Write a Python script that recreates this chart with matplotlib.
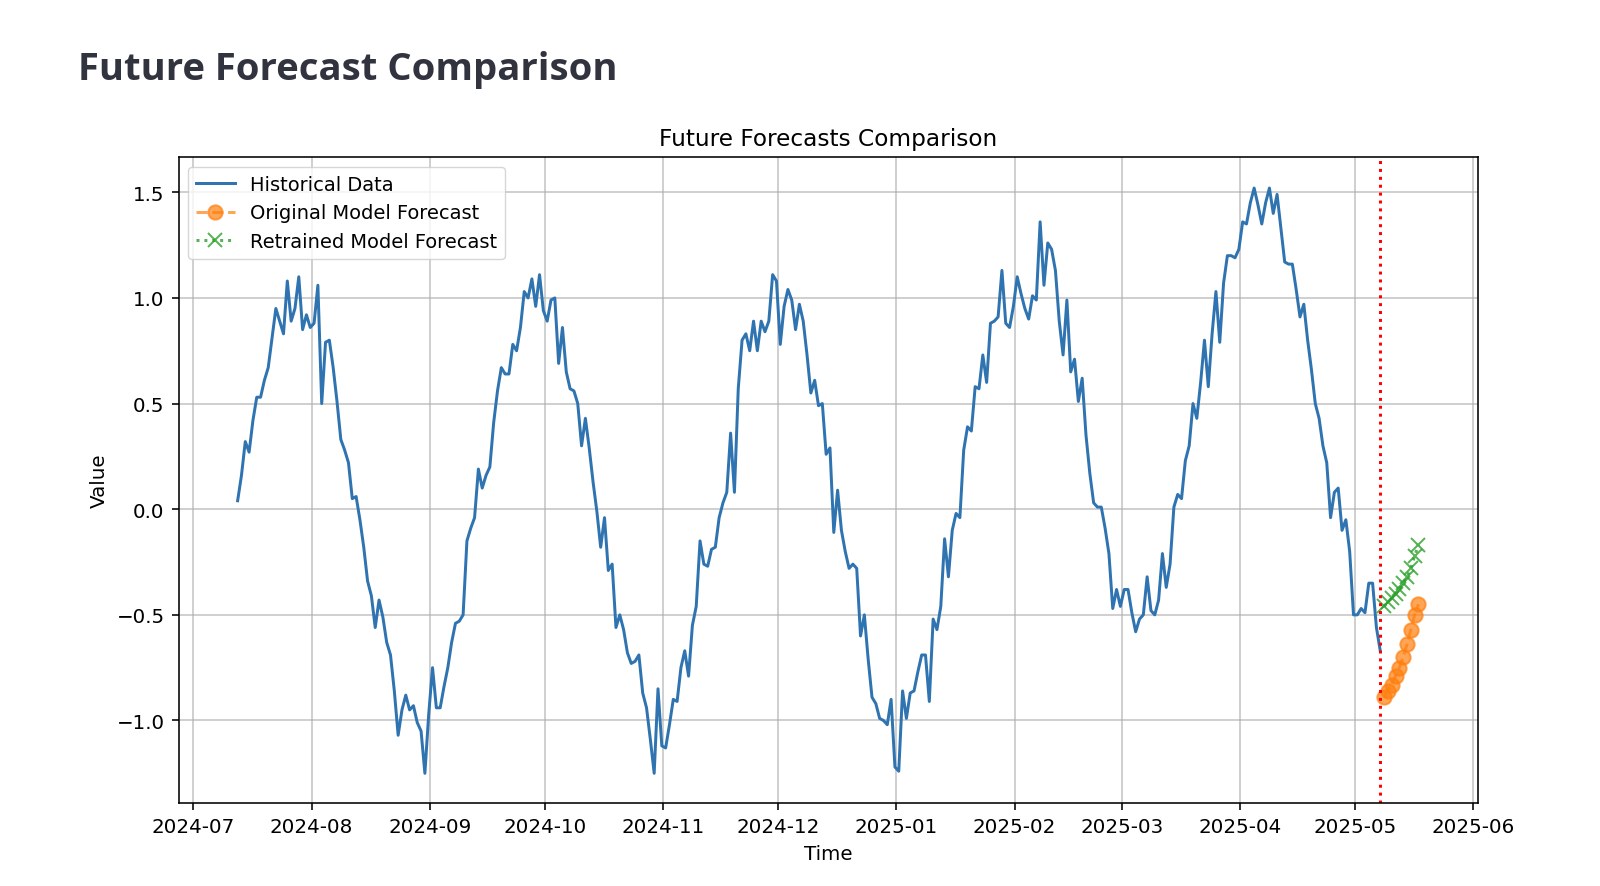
import matplotlib
matplotlib.use("Agg")
import matplotlib.pyplot as plt
import pandas as pd

# ---------------- data ----------------
history_start = "2024-07-12 16:00"
history_values = [
    0.04, 0.16, 0.32, 0.27, 0.42, 0.53, 0.53, 0.61, 0.67, 0.81,
    0.95, 0.89, 0.83, 1.08, 0.89, 0.95, 1.10, 0.85, 0.92, 0.86,
    0.88, 1.06, 0.50, 0.79, 0.80, 0.67, 0.51, 0.33, 0.28, 0.22,
    0.05, 0.06, -0.05, -0.18, -0.34, -0.41, -0.56, -0.43, -0.51, -0.63,
    -0.69, -0.86, -1.07, -0.95, -0.88, -0.95, -0.93, -1.01, -1.05, -1.25,
    -0.97, -0.75, -0.94, -0.94, -0.84, -0.75, -0.63, -0.54, -0.53, -0.50,
    -0.15, -0.09, -0.04, 0.19, 0.10, 0.16, 0.20, 0.41, 0.56, 0.67,
    0.64, 0.64, 0.78, 0.75, 0.86, 1.03, 1.00, 1.09, 0.96, 1.11,
    0.94, 0.89, 0.99, 1.00, 0.69, 0.86, 0.65, 0.57, 0.56, 0.50,
    0.30, 0.43, 0.29, 0.13, -0.01, -0.18, -0.04, -0.29, -0.26, -0.56,
    -0.50, -0.57, -0.68, -0.73, -0.72, -0.69, -0.87, -0.94, -1.09, -1.25,
    -0.85, -1.12, -1.13, -1.02, -0.90, -0.91, -0.75, -0.67, -0.79, -0.55,
    -0.46, -0.15, -0.26, -0.27, -0.19, -0.18, -0.04, 0.03, 0.08, 0.36,
    0.08, 0.57, 0.80, 0.83, 0.75, 0.89, 0.75, 0.89, 0.84, 0.89,
    1.11, 1.08, 0.78, 0.96, 1.04, 0.99, 0.85, 0.97, 0.89, 0.73,
    0.55, 0.61, 0.49, 0.50, 0.26, 0.29, -0.11, 0.09, -0.10, -0.20,
    -0.28, -0.26, -0.28, -0.60, -0.50, -0.71, -0.89, -0.92, -0.99, -1.00,
    -1.02, -0.90, -1.22, -1.24, -0.86, -0.99, -0.87, -0.86, -0.77, -0.69,
    -0.69, -0.91, -0.52, -0.57, -0.46, -0.14, -0.32, -0.10, -0.02, -0.04,
    0.28, 0.39, 0.37, 0.58, 0.57, 0.73, 0.60, 0.88, 0.89, 0.91,
    1.13, 0.88, 0.86, 0.96, 1.10, 1.02, 0.95, 0.90, 1.01, 0.99,
    1.36, 1.06, 1.26, 1.23, 1.13, 0.89, 0.73, 0.99, 0.65, 0.71,
    0.51, 0.62, 0.35, 0.17, 0.03, 0.01, 0.01, -0.09, -0.21, -0.47,
    -0.38, -0.46, -0.38, -0.38, -0.49, -0.58, -0.52, -0.50, -0.32, -0.48,
    -0.50, -0.43, -0.21, -0.37, -0.26, 0.01, 0.07, 0.05, 0.23, 0.30,
    0.50, 0.43, 0.60, 0.80, 0.58, 0.83, 1.03, 0.79, 1.07, 1.20,
    1.20, 1.19, 1.23, 1.36, 1.35, 1.45, 1.52, 1.44, 1.35, 1.45,
    1.52, 1.40, 1.49, 1.33, 1.17, 1.16, 1.16, 1.04, 0.91, 0.97,
    0.80, 0.66, 0.50, 0.43, 0.30, 0.22, -0.04, 0.08, 0.10, -0.10,
    -0.05, -0.20, -0.50, -0.50, -0.47, -0.49, -0.35, -0.35, -0.56, -0.67,
]
forecast_original = [-0.89, -0.86, -0.83, -0.79, -0.75, -0.70, -0.64, -0.57, -0.50, -0.45]
forecast_retrained = [-0.46, -0.44, -0.42, -0.40, -0.38, -0.35, -0.32, -0.28, -0.22, -0.17]

page_title = "Future Forecast Comparison"
chart_title = "Future Forecasts Comparison"
series_labels = ["Historical Data", "Original Model Forecast", "Retrained Model Forecast"]

# ---------------- style ----------------
S = 1.43
plt.rcParams.update({
    "font.family": ["DejaVu Sans"],
    "font.size": 10 * S,
    "axes.titlesize": 12 * S * 0.975,
    "axes.labelsize": 10 * S,
    "legend.fontsize": 10 * S * 0.975,
    "xtick.labelsize": 10 * S,
    "ytick.labelsize": 10 * S,
    "axes.linewidth": 0.8 * S,
    "xtick.major.width": 0.8 * S,
    "ytick.major.width": 0.8 * S,
    "xtick.major.size": 3.5 * S,
    "ytick.major.size": 3.5 * S,
    "xtick.major.pad": 3.5 * S,
    "ytick.major.pad": 3.5 * S,
    "grid.linewidth": 0.8 * S,
    "lines.linewidth": 1.5 * S,
    "lines.markersize": 6 * S * 1.2,
    "lines.markeredgewidth": 1.0 * S,
    "axes.titlepad": 6 * S,
    "axes.labelpad": 4 * S,
})

W, H = 1600, 887
fig = plt.figure(figsize=(W / 100, H / 100), dpi=100)
fig.patch.set_facecolor("white")

ax = fig.add_axes([178.6 / W, 1 - 804.1 / H, (1477.5 - 178.6) / W, (804.1 - 158.2) / H])

hist_dates = pd.date_range(start=history_start, periods=len(history_values), freq="D")
fc_dates = pd.date_range(start=hist_dates[-1] + pd.Timedelta(days=1),
                         periods=len(forecast_original), freq="D")

ax.plot(hist_dates, history_values, color="#2f74b0", label=series_labels[0])
ax.plot(fc_dates, forecast_original, linestyle="--", marker="o", color="tab:orange",
        alpha=0.7, label=series_labels[1])
ax.plot(fc_dates, forecast_retrained, linestyle=":", marker="x", color="tab:green",
        alpha=0.8, label=series_labels[2])
ax.axvline(hist_dates[-1], color="red", linestyle=":", linewidth=1.5 * S)

ax.set_title(chart_title)
ax.set_xlabel("Time")
ax.set_ylabel("Value")
ax.grid(True, color="#b0b0b0", alpha=0.75)
ax.legend(loc="upper left")
ax.set_ylim(-1.391, 1.666)

# page heading (Streamlit-like)
t = fig.text(78 / W, 1 - 80 / H, page_title, fontsize=30, fontweight="bold",
             family=["Open Sans", "DejaVu Sans"], color="#31333F", va="baseline", ha="left")
fig.canvas.draw()
bb = t.get_window_extent()
t.set_fontsize(30 * 539.0 / bb.width)

fig.savefig("out.png", dpi=100, facecolor="white")
